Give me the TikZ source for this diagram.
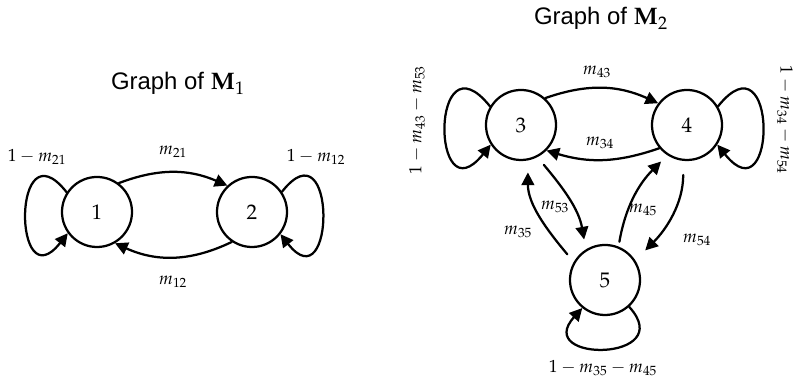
\documentclass[tikz,border=0pt]{standalone}
\usepackage{mathpazo}
\usepackage[no-math]{fontspec}
\newfontfamily\titlefont{Liberation Sans}
\usetikzlibrary{arrows.meta}

\begin{document}
\begin{tikzpicture}[x=0.025cm,y=0.025cm,line join=round,line cap=round,>={Triangle[length=9pt,width=9pt]},
	state/.style={draw,circle,line width=1.6pt,minimum size=1.75cm,inner sep=0pt,font=\fontsize{15}{17}\selectfont},
	edge/.style={->,line width=1.6pt},
	lbl/.style={font=\fontsize{12.5}{14}\selectfont},
	title/.style={anchor=base,font=\fontsize{17}{19}\selectfont\titlefont}]
	\useasboundingbox (0,0) rectangle (797,385);
	
	% Titles
	\node[title] (t1) at (178,295) {Graph of $\mathbf{M}_1$};
	\node[title] (t2) at (601,360) {Graph of $\mathbf{M}_2$};
	
	% States
	\node[state] (n1) at (97,173) {$1$};
	\node[state] (n2) at (252,173) {$2$};
	\node[state] (n3) at (521,260) {$3$};
	\node[state] (n4) at (687,260) {$4$};
	\node[state] (n5) at (605,105) {$5$};
	
	% Edges of M1
	\draw[edge] (n1.53) to[bend left=22] (n2.133);
	\draw[edge] (n2.236) to[bend left=25] (n1.300);
	\draw[edge] (n1.147) .. controls +(-55,70) and +(-55,-70) .. (n1.216);
	\draw[edge] (n2.34) .. controls +(55,70) and +(55,-70) .. (n2.322);
	
	% Edges of M2
	\draw[edge] (n3.48) to[bend left=22] (n4.143);
	\draw[edge] (n4.220) to[bend left=18] (n3.315);
	\draw[edge,shorten <=2.5mm,shorten >=3mm] (n5.150) to[out=130,in=-90] (n3.281);
	\draw[edge,shorten <=2.5mm,shorten >=2.5mm] (n3.297) to[out=-50,in=100] (n5.122);
	\draw[edge,shorten <=1.2mm,shorten >=2.2mm] (n5.68) to[out=80,in=225] (n4.237);
	\draw[edge,shorten <=3.5mm,shorten >=3.5mm] (n4.264) to[out=-90,in=45] (n5.33);
	\draw[edge] (n3.149) .. controls +(-60,75) and +(-60,-75) .. (n3.213);
	\draw[edge] (n4.31) .. controls +(60,75) and +(60,-75) .. (n4.327);
	\draw[edge] (n5.312) .. controls +(50,-55) and +(-50,-55) .. (n5.231);
	
	% Labels
	\node[lbl] (l21) at (173,233) {$m_{21}$};
	\node[lbl] (l12) at (173,103) {$m_{12}$};
	\node[lbl] (s1) at (37,228) {$1-m_{21}$};
	\node[lbl] (s2) at (316,228) {$1-m_{12}$};
	\node[lbl] (l43) at (597,313) {$m_{43}$};
	\node[lbl] (l34) at (600,242) {$m_{34}$};
	\node[lbl] (l35) at (518,153) {$m_{35}$};
	\node[lbl] (l53) at (555,178) {$m_{53}$};
	\node[lbl] (l45) at (643,175) {$m_{45}$};
	\node[lbl] (l54) at (697,145) {$m_{54}$};
	\node[lbl,rotate=90] (s3) at (417,265) {$1-m_{43}-m_{53}$};
	\node[lbl,rotate=-90] (s4) at (785,265) {$1-m_{34}-m_{54}$};
	\node[lbl] (s5) at (603,17) {$1-m_{35}-m_{45}$};
\end{tikzpicture}
\end{document}
